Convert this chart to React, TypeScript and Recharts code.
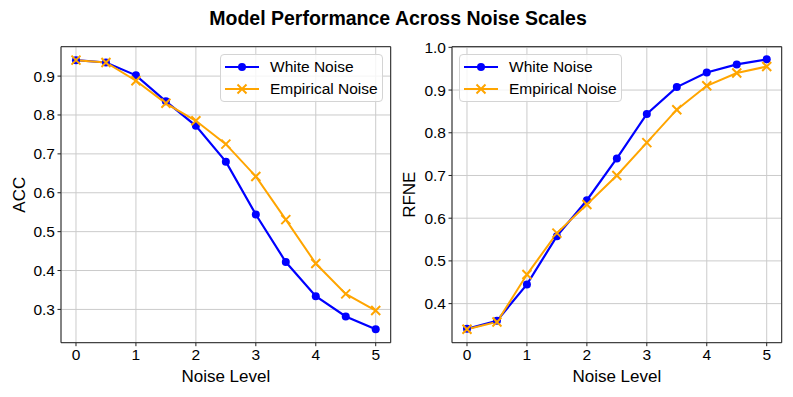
import {
  CartesianGrid,
  Label,
  Legend,
  Line,
  LineChart,
  ReferenceArea,
  XAxis,
  YAxis,
} from 'recharts'

const noiseLevels = [0, 0.5, 1, 1.5, 2, 2.5, 3, 3.5, 4, 4.5, 5]
const accWhite = [0.941, 0.935, 0.902, 0.835, 0.772, 0.68, 0.544, 0.422, 0.334, 0.282, 0.249]
const accEmpirical = [0.941, 0.935, 0.888, 0.83, 0.785, 0.725, 0.642, 0.531, 0.418, 0.34, 0.297]
const rfneWhite = [0.341, 0.36, 0.445, 0.558, 0.642, 0.74, 0.844, 0.907, 0.941, 0.96, 0.972]
const rfneEmpirical = [0.34, 0.357, 0.468, 0.565, 0.632, 0.7, 0.777, 0.854, 0.91, 0.94, 0.955]

const xTicks = [0, 1, 2, 3, 4, 5]
const accTicks = [0.3, 0.4, 0.5, 0.6, 0.7, 0.8, 0.9]
const rfneTicks = [0.4, 0.5, 0.6, 0.7, 0.8, 0.9, 1.0]

const X_DOMAIN: [number, number] = [-0.25, 5.25]
const ACC_DOMAIN: [number, number] = [0.2144, 0.9756]
const RFNE_DOMAIN: [number, number] = [0.3085, 1.0015]

const FONT = '"Liberation Sans", Arial, Helvetica, sans-serif'
const BLUE = '#0000ff'
const ORANGE = '#ffa500'
const FRAME = '#222'

const accData = noiseLevels.map((n, i) => ({
  noise: n,
  white: accWhite[i],
  empirical: accEmpirical[i],
}))
const rfneData = noiseLevels.map((n, i) => ({
  noise: n,
  white: rfneWhite[i],
  empirical: rfneEmpirical[i],
}))

const tickStyle = { fontSize: 15.5, fill: '#000', fontFamily: FONT }

function XMark(props: any) {
  const { cx, cy, index } = props
  if (cx == null || cy == null) return <g key={`xm-${index}`} />
  const s = 4.5
  return (
    <path
      key={`xm-${index}`}
      d={`M${cx - s},${cy - s}L${cx + s},${cy + s}M${cx - s},${cy + s}L${cx + s},${cy - s}`}
      stroke={ORANGE}
      strokeWidth={2}
      fill="none"
    />
  )
}

function NoiseLegend() {
  const rows = [
    { name: 'White Noise', color: BLUE, marker: 'circle' },
    { name: 'Empirical Noise', color: ORANGE, marker: 'x' },
  ]
  return (
    <div
      style={{
        width: 163,
        height: 47.5,
        boxSizing: 'border-box',
        border: '1px solid #d4d4d4',
        borderRadius: 4,
        background: 'rgba(255,255,255,0.8)',
        fontFamily: FONT,
        fontSize: 15.5,
        color: '#000',
      }}
    >
      {rows.map((r) => (
        <div
          key={r.name}
          style={{ height: 22.6, display: 'flex', alignItems: 'center', position: 'relative' }}
        >
          <svg width={34} height={20} style={{ position: 'absolute', left: 4 }}>
            <line x1={0} y1={10} x2={34} y2={10} stroke={r.color} strokeWidth={2.2} />
            {r.marker === 'circle' ? (
              <circle cx={17} cy={10} r={4} fill={r.color} />
            ) : (
              <path d="M12.5,5.5L21.5,14.5M12.5,14.5L21.5,5.5" stroke={r.color} strokeWidth={2} />
            )}
          </svg>
          <span style={{ position: 'absolute', left: 49, whiteSpace: 'nowrap' }}>{r.name}</span>
        </div>
      ))}
    </div>
  )
}

const yTitle = (text: string, baselineX: number) => (props: any) => {
  const vb = props.viewBox || { y: 46.7, height: 296 }
  const cy = vb.y + vb.height / 2
  return (
    <text
      x={baselineX}
      y={cy}
      transform={`rotate(-90, ${baselineX}, ${cy})`}
      textAnchor="middle"
      fontSize={17}
      fontFamily={FONT}
      fill="#000"
    >
      {text}
    </text>
  )
}

const xTitle = (props: any) => {
  const vb = props.viewBox
  const cx = vb.x + vb.width / 2
  return (
    <text x={cx} y={381.5} textAnchor="middle" fontSize={17} fontFamily={FONT} fill="#000">
      Noise Level
    </text>
  )
}

function Panel({
  data,
  yDomain,
  yTicks,
  yLabel,
  yAxisWidth,
  labelX,
  width,
  right,
  legendLeft,
}: {
  data: typeof accData
  yDomain: [number, number]
  yTicks: number[]
  yLabel: string
  yAxisWidth: number
  labelX: number
  width: number
  right: number
  legendLeft: number
}) {
  return (
    <LineChart
      width={width}
      height={397}
      data={data}
      margin={{ top: 46.7, right, bottom: 0, left: 0 }}
    >
      <CartesianGrid stroke="#cbcbcb" strokeWidth={1} />
      <XAxis
        dataKey="noise"
        type="number"
        domain={X_DOMAIN}
        ticks={xTicks}
        allowDataOverflow
        height={54.3}
        tick={tickStyle}
        tickSize={3.5}
        tickMargin={3}
        tickLine={{ stroke: FRAME }}
        axisLine={false}
      >
        <Label content={xTitle} />
      </XAxis>
      <YAxis
        type="number"
        domain={yDomain}
        ticks={yTicks}
        allowDataOverflow
        width={yAxisWidth}
        tick={tickStyle}
        tickSize={3.5}
        tickMargin={2.5}
        tickLine={{ stroke: FRAME }}
        axisLine={false}
        tickFormatter={(v: number) => v.toFixed(1)}
      >
        <Label content={yTitle(yLabel, labelX)} />
      </YAxis>
      <ReferenceArea
        x1={X_DOMAIN[0]}
        x2={X_DOMAIN[1]}
        y1={yDomain[0]}
        y2={yDomain[1]}
        fill="none"
        fillOpacity={0}
        stroke={FRAME}
        strokeWidth={1}
        ifOverflow="visible"
      />
      <Line
        dataKey="white"
        name="White Noise"
        stroke={BLUE}
        strokeWidth={2.2}
        dot={{ r: 4, fill: BLUE, stroke: 'none' }}
        isAnimationActive={false}
      />
      <Line
        dataKey="empirical"
        name="Empirical Noise"
        stroke={ORANGE}
        strokeWidth={2}
        dot={XMark}
        isAnimationActive={false}
      />
      <Legend
        layout="horizontal"
        verticalAlign="middle"
        align="center"
        content={() => <NoiseLegend />}
        wrapperStyle={{ position: 'absolute', left: legendLeft, top: 54.3, width: 163, height: 47.5 }}
      />
    </LineChart>
  )
}

export default function App() {
  return (
    <div style={{ position: 'absolute', left: 0, top: 0, width: 793, height: 397, background: '#fff' }}>
      <div
        style={{
          position: 'absolute',
          left: 1.5,
          top: 8.5,
          width: 793,
          textAlign: 'center',
          fontFamily: FONT,
          fontWeight: 'bold',
          fontSize: 19.5,
          lineHeight: '19.5px',
          color: '#000',
        }}
      >
        Model Performance Across Noise Scales
      </div>
      <div style={{ position: 'absolute', left: 0, top: 0 }}>
        <Panel
          data={accData}
          yDomain={ACC_DOMAIN}
          yTicks={accTicks}
          yLabel="ACC"
          yAxisWidth={61}
          labelX={24.8}
          width={400}
          right={9.3}
          legendLeft={220}
        />
      </div>
      <div style={{ position: 'absolute', left: 400, top: 0 }}>
        <Panel
          data={rfneData}
          yDomain={RFNE_DOMAIN}
          yTicks={rfneTicks}
          yLabel="RFNE"
          yAxisWidth={52}
          labelX={15}
          width={393}
          right={11.3}
          legendLeft={59}
        />
      </div>
    </div>
  )
}
